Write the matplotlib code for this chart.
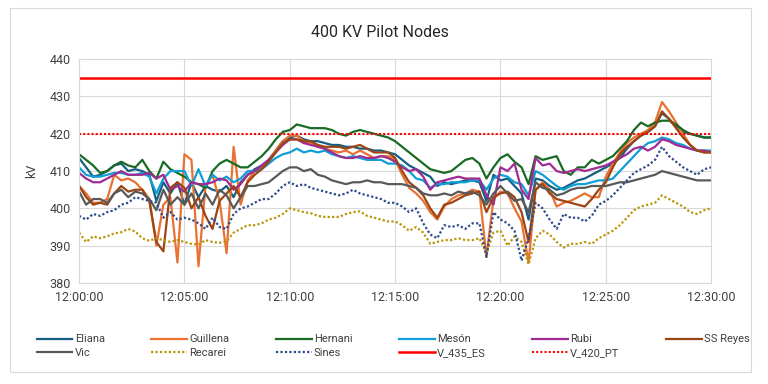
import numpy as np
import matplotlib
matplotlib.use("Agg")
import matplotlib.pyplot as plt
from matplotlib.patches import Rectangle

plt.rcParams["font.family"] = ["Roboto", "DejaVu Sans"]

# samples every 20 s from 12:00:00 to 12:30:00 (x in minutes)
minutes = np.arange(91) / 3.0
xtick_min = [0, 5, 10, 15, 20, 25, 30]
xtick_lab = ["12:00:00", "12:05:00", "12:10:00", "12:15:00", "12:20:00", "12:25:00", "12:30:00"]

eliana = [413.5, 411, 408.5, 409, 410, 411.5, 412, 410, 410.5, 410, 409, 402,
          407, 404, 407, 401, 407, 403, 406, 405, 404.5, 406, 403, 407,
          409, 410.5, 411.5, 413, 415.5, 418, 419, 419.5, 418.5, 418, 418, 417.5,
          417, 417, 416.5, 416.5, 416, 416, 415.5, 415.5, 415, 414.5, 413, 411.5,
          410.5, 409.5, 408.5, 406, 407, 406.5, 407, 407.5, 407.5, 407, 402, 409,
          407.5, 408, 406, 404, 397, 408, 407.5, 406, 405, 405.5, 406.5, 407.5,
          408, 409, 410, 411, 412, 413.5, 416, 418, 419.5, 420.5, 422, 425.5,
          424, 422, 420.5, 420, 419.5, 419, 419]
guillena = [406, 404, 401.5, 401.5, 402.5, 409, 407.5, 408, 407, 405, 402.5, 390,
            401, 403, 385.5, 414.5, 413, 384.5, 406, 409, 402, 388, 416.5, 401,
            407.5, 410, 411, 413, 415.5, 418, 419.5, 419.5, 418, 417.5, 416.5, 416,
            415.5, 415, 415.5, 414.5, 415.5, 414.5, 413.5, 414, 414, 413, 409, 405.5,
            404, 402, 399, 397, 400.5, 402.5, 403.5, 404, 405, 404.5, 387, 402.5,
            404.5, 404, 400, 396.5, 385.5, 405, 407, 405, 400.5, 401.5, 402, 403,
            404, 403, 403, 408.5, 412, 415, 417.5, 419, 420, 421, 423, 428.5,
            426, 423, 420, 417, 415.5, 415, 415]
hernani = [414.5, 413, 411.5, 409.5, 410, 411.5, 412.5, 411.5, 411, 413, 410, 408,
           412.5, 410.5, 409.5, 408.5, 407, 406.5, 405.5, 410, 412, 413, 412, 411,
           411, 412.5, 414, 416, 418.5, 420.5, 421, 422.5, 422, 421.5, 421.5, 421.5,
           421, 420, 419.5, 420.5, 421, 420.5, 420, 419.5, 419, 418, 416.5, 415,
           413.5, 412, 410.5, 410, 409.5, 410, 411.5, 413, 413.5, 412, 408, 411,
           413.5, 414.5, 412.5, 411, 406.5, 414, 413, 413.5, 414, 410, 409, 411,
           411, 413, 412, 413, 414, 416, 418, 421, 423, 422, 423, 423.5,
           423.5, 422.5, 421, 420, 419.5, 419, 419]
meson = [411, 409, 408.5, 408.5, 409, 409.5, 409.5, 409, 409, 409.5, 408.5, 404,
         408, 410, 410, 410, 406, 410.5, 406, 409, 407.5, 408.5, 407, 408,
         410, 410, 410.5, 412, 413.5, 414.5, 415, 416, 415, 415.5, 415, 415.5,
         414.5, 414, 413.5, 414, 413.5, 413, 413, 413, 412, 412, 411.5, 410,
         408, 407.5, 405.5, 406.5, 406.5, 407, 407, 407, 407.5, 407.5, 405, 408,
         409, 408.5, 407, 406.5, 403.5, 410, 409, 407.5, 406, 405, 406, 406.5,
         406.5, 407, 407.5, 407.5, 408, 410, 412, 414, 416, 417.5, 418, 419,
         418.5, 417.5, 417, 416, 415.5, 415.5, 415.5]
rubi = [409.5, 408, 407, 407, 408, 409, 410, 409, 409, 409, 409.5, 408,
        409, 405, 406, 404.5, 407, 406.5, 406.5, 407, 408, 407.5, 405, 406.5,
        409, 410, 411.5, 413, 415, 417, 418.5, 418.5, 417.5, 417, 416.5, 416,
        415, 414, 413.5, 413.5, 414, 413.5, 413.5, 414, 413.5, 412.5, 411, 410,
        410.5, 408.5, 405, 407, 407.5, 408, 408.5, 408, 408, 408, 403.5, 401,
        411, 410, 412, 405, 402.5, 413.5, 411.5, 412, 410, 409.5, 410, 410.5,
        410, 410.5, 411, 411.5, 412.5, 413.5, 414.5, 416, 416.5, 415.5, 416.5, 418.5,
        418, 417, 416.5, 416, 415.5, 415.5, 415]
ss_reyes = [406, 403, 401, 401.5, 401, 404, 406, 404.5, 405, 405, 402, 391,
            388.5, 405.5, 407, 405.5, 400, 403, 398, 394.5, 402, 404, 406, 403,
            407, 409, 410.5, 412.5, 415, 417.5, 418.5, 418.5, 418, 418, 417, 416.5,
            416.5, 416.5, 416, 416.5, 417, 416, 415, 415, 415, 413.5, 410, 407,
            405.5, 403.5, 400, 397.5, 401, 401.5, 402.5, 403.5, 404, 404.5, 399, 403,
            404, 404.5, 403, 399, 391, 405, 406.5, 404, 402.5, 402, 401.5, 401,
            400.5, 402.5, 405, 407, 411, 414.5, 416.5, 418, 419.5, 420.5, 422, 426,
            424, 421.5, 419, 417, 415.5, 415, 415]
vic = [404.5, 401, 402.5, 402.5, 401.5, 404, 405, 403, 404.5, 404, 402.5, 399.5,
       405, 401, 403, 401, 404, 400, 404, 401, 405, 403.5, 400, 403,
       406, 406, 406.5, 407, 408.5, 410, 411, 411, 410, 410.5, 409, 408.5,
       407.5, 407, 406.5, 407, 407, 407.5, 407, 407, 406.5, 406.5, 406.5, 406,
       405.5, 404, 403.5, 403.5, 404, 403.5, 404.5, 404, 404.5, 403.5, 401, 404,
       406, 404, 402, 402.5, 399, 407, 405.5, 405, 403.5, 404, 405, 405.5,
       405.5, 406, 406, 406, 406.5, 407, 407, 407.5, 408, 408.5, 409, 410,
       409.5, 409, 408.5, 408, 407.5, 407.5, 407.5]
recarei = [393.5, 391, 392.5, 392, 392.5, 393.3, 393.6, 394.5, 393.8, 392, 391.3, 392,
           391.5, 391, 391.5, 391, 390.5, 390.3, 391.5, 391, 390.8, 391.2, 393.5, 394.5,
           395.5, 395.5, 396, 397, 397.5, 398.5, 400, 399.5, 399, 398.7, 398, 397.7,
           397.7, 397.7, 398.5, 399, 399.2, 398, 397.5, 397, 396.5, 396.5, 395.5, 394,
           395, 393.5, 390.5, 391, 391.5, 391.5, 392, 391.5, 391.5, 392, 388, 393.5,
           394, 390, 392.5, 391, 385, 392, 394, 393, 391, 389.5, 390.5, 390.5,
           391, 390.5, 392, 393, 394, 395.5, 397.5, 399.5, 400.5, 401, 401.5, 403.5,
           402.5, 401.5, 400.5, 399, 398.5, 399.5, 400]
sines = [398, 397, 398.5, 398, 399, 399.5, 401, 401.5, 403, 402.5, 402, 401.5,
         397.5, 399, 397, 397.5, 397, 396, 394.5, 397.5, 395, 394.5, 398.5, 400,
         400.5, 401.5, 402.5, 402.5, 404, 406, 407, 406, 406.5, 405.5, 405, 404.5,
         404, 403.5, 404, 405, 404, 403.5, 403, 402.5, 401.5, 401.5, 400.5, 399,
         400, 396, 393, 392, 395.5, 395, 395.5, 394.5, 396, 396, 387, 399,
         397, 396, 394, 386, 392, 401.5, 400, 397, 394.5, 398.5, 397.5, 397.5,
         396.5, 398, 401, 402, 403.5, 405.5, 407.5, 409.5, 410.5, 411.5, 413, 416.5,
         414, 412.5, 411, 410, 409, 410.5, 411]
v_435_es = 435
v_420_pt = 420

DOT = (0, (1, 1))
series = [
    ("Eliana", eliana, "#156082", "-"),
    ("Guillena", guillena, "#E97132", "-"),
    ("Hernani", hernani, "#196B24", "-"),
    ("Mesón", meson, "#0F9ED5", "-"),
    ("Rubi", rubi, "#A02B93", "-"),
    ("SS Reyes", ss_reyes, "#9C4514", "-"),
    ("Vic", vic, "#595959", "-"),
    ("Recarei", recarei, "#B8960A", DOT),
    ("Sines", sines, "#2F4B8C", DOT),
]

fig = plt.figure(figsize=(7.68, 3.84), dpi=100)
fig.add_artist(Rectangle((0.013, 0.031), 0.965, 0.948, transform=fig.transFigure,
                         fill=False, edgecolor="#D9D9D9", lw=0.8))
ax = fig.add_axes([0.103, 0.263, 0.823, 0.583])

for name, vals, col, ls in series:
    ax.plot(minutes, vals, color=col, ls=ls, lw=1.6, label=name)
ax.axhline(v_435_es, color="#FF0000", lw=1.8, label="V_435_ES")
ax.axhline(v_420_pt, color="#FF0000", lw=1.5, ls=DOT, label="V_420_PT")

ax.set_xlim(0, 30)
ax.set_ylim(380, 440)
ax.set_yticks(range(380, 441, 10))
ax.set_xticks(xtick_min)
ax.set_xticklabels(xtick_lab)
ax.grid(color="#D9D9D9", lw=0.8)
ax.set_axisbelow(True)
for sp in ax.spines.values():
    sp.set_color("#D9D9D9")
    sp.set_linewidth(0.8)
ax.tick_params(length=0, labelsize=9, colors="#404040", pad=6)
ax.set_ylabel("kV", fontsize=9, color="#404040", labelpad=8)

fig.text(0.495, 0.915, "400 KV Pilot Nodes", ha="center", va="center",
         fontsize=11.5, color="#262626")

# legend fills column by column: reorder so it reads row by row like Excel
h, l = ax.get_legend_handles_labels()
order = [0, 6, 1, 7, 2, 8, 3, 9, 4, 10, 5]
fig.legend([h[i] for i in order], [l[i] for i in order], ncol=6, loc="upper left",
           bbox_to_anchor=(0.035, 0.155), frameon=False, fontsize=8,
           handlelength=3.2, handletextpad=0.2, columnspacing=4.2,
           labelspacing=0.3, labelcolor="#404040")

plt.savefig("out.png", dpi=100)
plt.close()
